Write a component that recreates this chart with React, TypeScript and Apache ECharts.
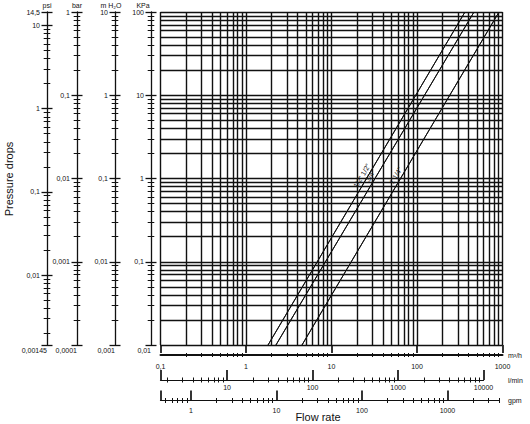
import React, { useEffect, useRef } from 'react';
import * as echarts from 'echarts';

const FONT = '"Liberation Sans Narrow", "Liberation Sans", Arial, sans-serif';
const INK = '#111111';

// ---- main chart ranges ----
const flowRange = [0.1, 1000]; // m³/h
const dropRange = [0.01, 100]; // kPa
const gridMantissas = [1, 2, 3, 4, 5, 6, 7, 8, 9];
const minorMantissas = [2, 3, 4, 5, 6, 7, 8, 9];

// ---- curves: flow (m³/h) where each line meets the bottom and top of the chart ----
const curveNames = ['1/2" 1/2"', '3/4"', '1 1/4"'];
const curveFlowAtLowDrop = [1.81, 2.24, 4.52];
const curveFlowAtHighDrop = [364, 464, 910];

// ---- pressure scales (left) ----
const psiTicks = [0.00145, 0.01, 0.1, 1, 10, 14.5];
const psiLabels = ['0,00145', '0,01', '0,1', '1', '10', '14,5'];
const barTicks = [0.0001, 0.001, 0.01, 0.1, 1];
const barLabels = ['0,0001', '0,001', '0,01', '0,1', '1'];
const mh2oTicks = [0.001, 0.01, 0.1, 1, 10];
const mh2oLabels = ['0,001', '0,01', '0,1', '1', '10'];
const kpaTicks = [0.01, 0.1, 1, 10, 100];
const kpaLabels = ['0,01', '0,1', '1', '10', '100'];

// ---- flow scales (bottom) ----
const m3hTicks = [0.1, 1, 10, 100, 1000];
const m3hLabels = ['0,1', '1', '10', '100', '1000'];
const lpmTicks = [1.66667, 10, 100, 1000, 10000];
const lpmLabels = ['', '10', '100', '1000', '10000'];
const gpmTicks = [0.440287, 1, 10, 100, 1000];
const gpmLabels = ['', '1', '10', '100', '1000'];
const m3hEnd = 1000;
const lpmEnd = 10000;
const gpmEnd = 4000;

// ---- layout ----
const PLOT = { left: 160.5, top: 12, width: 342, height: 333 };
const LEFT_MAJ = 5.5;
const LEFT_MIN = 3.3;
const UNIT_X = 508;

const pressureScales = [
  { name: 'psi', ticks: psiTicks, labels: psiLabels, x: 47, nameShift: 0 },
  { name: 'bar', ticks: barTicks, labels: barLabels, x: 77, nameShift: 0 },
  { name: 'm H₂O', ticks: mh2oTicks, labels: mh2oLabels, x: 115, nameShift: 4 },
  { name: 'KPa', ticks: kpaTicks, labels: kpaLabels, x: 151, nameShift: 8 },
];

const flowScales = [
  { name: 'm³/h', ticks: m3hTicks, labels: m3hLabels, max: m3hEnd, y: 355, maj: 4, mn: 2, lineW: 2, margin: 7.5 },
  { name: 'l/min', ticks: lpmTicks, labels: lpmLabels, max: lpmEnd, y: 380, maj: 5, mn: 2.5, lineW: 1.2, margin: 4 },
  { name: 'gpm', ticks: gpmTicks, labels: gpmLabels, max: gpmEnd, y: 400.5, maj: 5, mn: 2.5, lineW: 1.2, margin: 6.5 },
];

function decadeValues(min: number, max: number, mant: number[]) {
  const out: number[] = [];
  for (let e = Math.floor(Math.log10(min)) - 1; e <= Math.ceil(Math.log10(max)); e++) {
    for (const m of mant) {
      const v = Number((m * Math.pow(10, e)).toPrecision(8));
      if (v >= min * (1 - 1e-6) && v <= max * (1 + 1e-6)) out.push(v);
    }
  }
  return out;
}

function minorsFor(ticks: number[], min: number, max: number) {
  return decadeValues(min, max, minorMantissas).filter(
    (v) => !ticks.some((t) => Math.abs(Math.log10(v) - Math.log10(t)) < 0.01)
  );
}

function labelFor(ticks: number[], labels: string[]) {
  return (v: number) => {
    let bi = 0;
    let bd = Infinity;
    ticks.forEach((t, i) => {
      const d = Math.abs(Math.log10(v) - Math.log10(t));
      if (d < bd) {
        bd = d;
        bi = i;
      }
    });
    return labels[bi];
  };
}

function buildOption() {
  const txt = { color: INK, fontFamily: FONT, fontSize: 7 };
  const decadePx = PLOT.width / Math.log10(flowRange[1] / flowRange[0]);

  const grids: any[] = [
    { left: PLOT.left, top: PLOT.top, width: PLOT.width, height: PLOT.height, outerBoundsMode: 'none', containLabel: false },
  ];
  const xAxes: any[] = [
    { type: 'log', gridIndex: 0, min: flowRange[0], max: flowRange[1], show: false },
  ];
  const yAxes: any[] = [
    { type: 'log', gridIndex: 0, min: dropRange[0], max: dropRange[1], show: false },
  ];

  // left pressure scales
  pressureScales.forEach((s) => {
    const min = s.ticks[0];
    const max = s.ticks[s.ticks.length - 1];
    const fmt = labelFor(s.ticks, s.labels);
    const minors = minorsFor(s.ticks, min, max);
    const base = {
      type: 'log',
      gridIndex: 0,
      position: 'left',
      min,
      max,
      splitLine: { show: false },
      minorTick: { show: false },
      minorSplitLine: { show: false },
    };
    yAxes.push({
      ...base,
      offset: PLOT.left - s.x,
      axisLine: { show: true, onZero: false, lineStyle: { color: INK, width: 1.3 } },
      axisTick: { show: false },
      axisLabel: { ...txt, customValues: s.ticks.slice(1), formatter: fmt, margin: 7 },
      name: s.name,
      nameLocation: 'end',
      nameGap: 3.5,
      nameTextStyle: { ...txt, padding: [0, 2 * s.nameShift, 0, 0] },
    });
    yAxes.push({
      ...base,
      offset: PLOT.left - (s.x + LEFT_MAJ),
      axisLine: { show: false },
      axisTick: { show: true, customValues: s.ticks, length: 2 * LEFT_MAJ, lineStyle: { color: INK, width: 1.3 } },
      axisLabel: { ...txt, customValues: [min], formatter: fmt, margin: LEFT_MAJ, verticalAlign: 'top', padding: [2, 0, 0, 0] },
    });
    yAxes.push({
      ...base,
      offset: PLOT.left - (s.x + LEFT_MIN),
      axisLine: { show: false },
      axisTick: { show: true, customValues: minors, length: 2 * LEFT_MIN, lineStyle: { color: INK, width: 1 } },
      axisLabel: { show: false },
    });
  });

  // bottom flow scales
  flowScales.forEach((s, k) => {
    const g = k + 1;
    const min = s.ticks[0];
    const width = decadePx * Math.log10(s.max / min);
    const fmt = labelFor(s.ticks, s.labels);
    const minors = minorsFor(s.ticks, min, s.max);
    grids.push({ left: PLOT.left, top: s.y - 11, width, height: 1, outerBoundsMode: 'none', containLabel: false });
    yAxes.push({ type: 'value', gridIndex: g, show: false, min: 0, max: 1 });
    const base = {
      type: 'log',
      gridIndex: g,
      position: 'bottom',
      min,
      max: s.max,
      splitLine: { show: false },
      minorTick: { show: false },
    };
    xAxes.push({
      ...base,
      offset: 10,
      axisLine: { show: true, onZero: false, lineStyle: { color: INK, width: s.lineW } },
      axisTick: { show: false },
      axisLabel: {
        ...txt,
        customValues: s.ticks.filter((_, i) => s.labels[i] !== ''),
        formatter: fmt,
        margin: s.margin,
      },
      name: s.name,
      nameLocation: 'end',
      nameGap: UNIT_X - (PLOT.left + width),
      nameTextStyle: { ...txt, align: 'left', verticalAlign: 'middle' },
    });
    xAxes.push({
      ...base,
      offset: 10 - s.maj,
      axisLine: { show: false },
      axisTick: { show: true, customValues: s.ticks, length: 2 * s.maj, lineStyle: { color: INK, width: 1.7 } },
      axisLabel: { show: false },
    });
    xAxes.push({
      ...base,
      offset: 10 - s.mn,
      axisLine: { show: false },
      axisTick: { show: true, customValues: minors, length: 2 * s.mn, lineStyle: { color: INK, width: 1 } },
      axisLabel: { show: false },
    });
  });

  const gridItems = [
    ...decadeValues(flowRange[0], flowRange[1], gridMantissas).map((v) => ({ xAxis: v })),
    ...decadeValues(dropRange[0], dropRange[1], gridMantissas).map((v) => ({ yAxis: v })),
  ];

  const series = curveNames.map((name, i) => ({
    type: 'line',
    name,
    xAxisIndex: 0,
    yAxisIndex: 0,
    data: [
      [curveFlowAtLowDrop[i], dropRange[0]],
      [curveFlowAtHighDrop[i], dropRange[1]],
    ],
    symbol: 'none',
    silent: true,
    z: 3,
    lineStyle: { color: INK, width: 1 },
    markLine: {
      silent: true,
      symbol: ['none', 'none'],
      lineStyle: { color: INK, width: 1.4, type: 'solid', opacity: 1 },
      label: { show: false },
      emphasis: { disabled: true },
      data: [
        ...(i === 0 ? gridItems : []),
        [
          {
            coord: [curveFlowAtLowDrop[i], dropRange[0]],
            lineStyle: { color: INK, width: 1, type: 'solid' },
            label: {
              show: true,
              position: 'insideMiddleTop',
              formatter: name,
              distance: 2,
              ...txt,
            },
          },
          { coord: [curveFlowAtHighDrop[i], dropRange[1]] },
        ],
      ],
    },
  }));

  return {
    animation: false,
    backgroundColor: '#ffffff',
    textStyle: { fontFamily: FONT },
    grid: grids,
    xAxis: xAxes,
    yAxis: yAxes,
    series,
    graphic: [
      {
        type: 'text',
        x: 9,
        y: 179,
        rotation: Math.PI / 2,
        style: {
          text: 'Pressure drops',
          fill: INK,
          fontFamily: FONT,
          fontSize: 11,
          align: 'center',
          verticalAlign: 'middle',
        },
      },
      {
        type: 'text',
        x: 318,
        y: 417,
        style: {
          text: 'Flow rate',
          fill: INK,
          fontFamily: FONT,
          fontSize: 11,
          align: 'center',
          verticalAlign: 'middle',
        },
      },
    ],
  };
}

export default function App() {
  const ref = useRef<HTMLDivElement>(null);
  useEffect(() => {
    const chart = echarts.init(ref.current as HTMLDivElement, null, { renderer: 'svg' });
    chart.setOption(buildOption() as any);
    return () => chart.dispose();
  }, []);
  return (
    <div
      ref={ref}
      style={{ position: 'fixed', left: 0, top: 0, width: 530, height: 424, background: '#fff' }}
    />
  );
}
